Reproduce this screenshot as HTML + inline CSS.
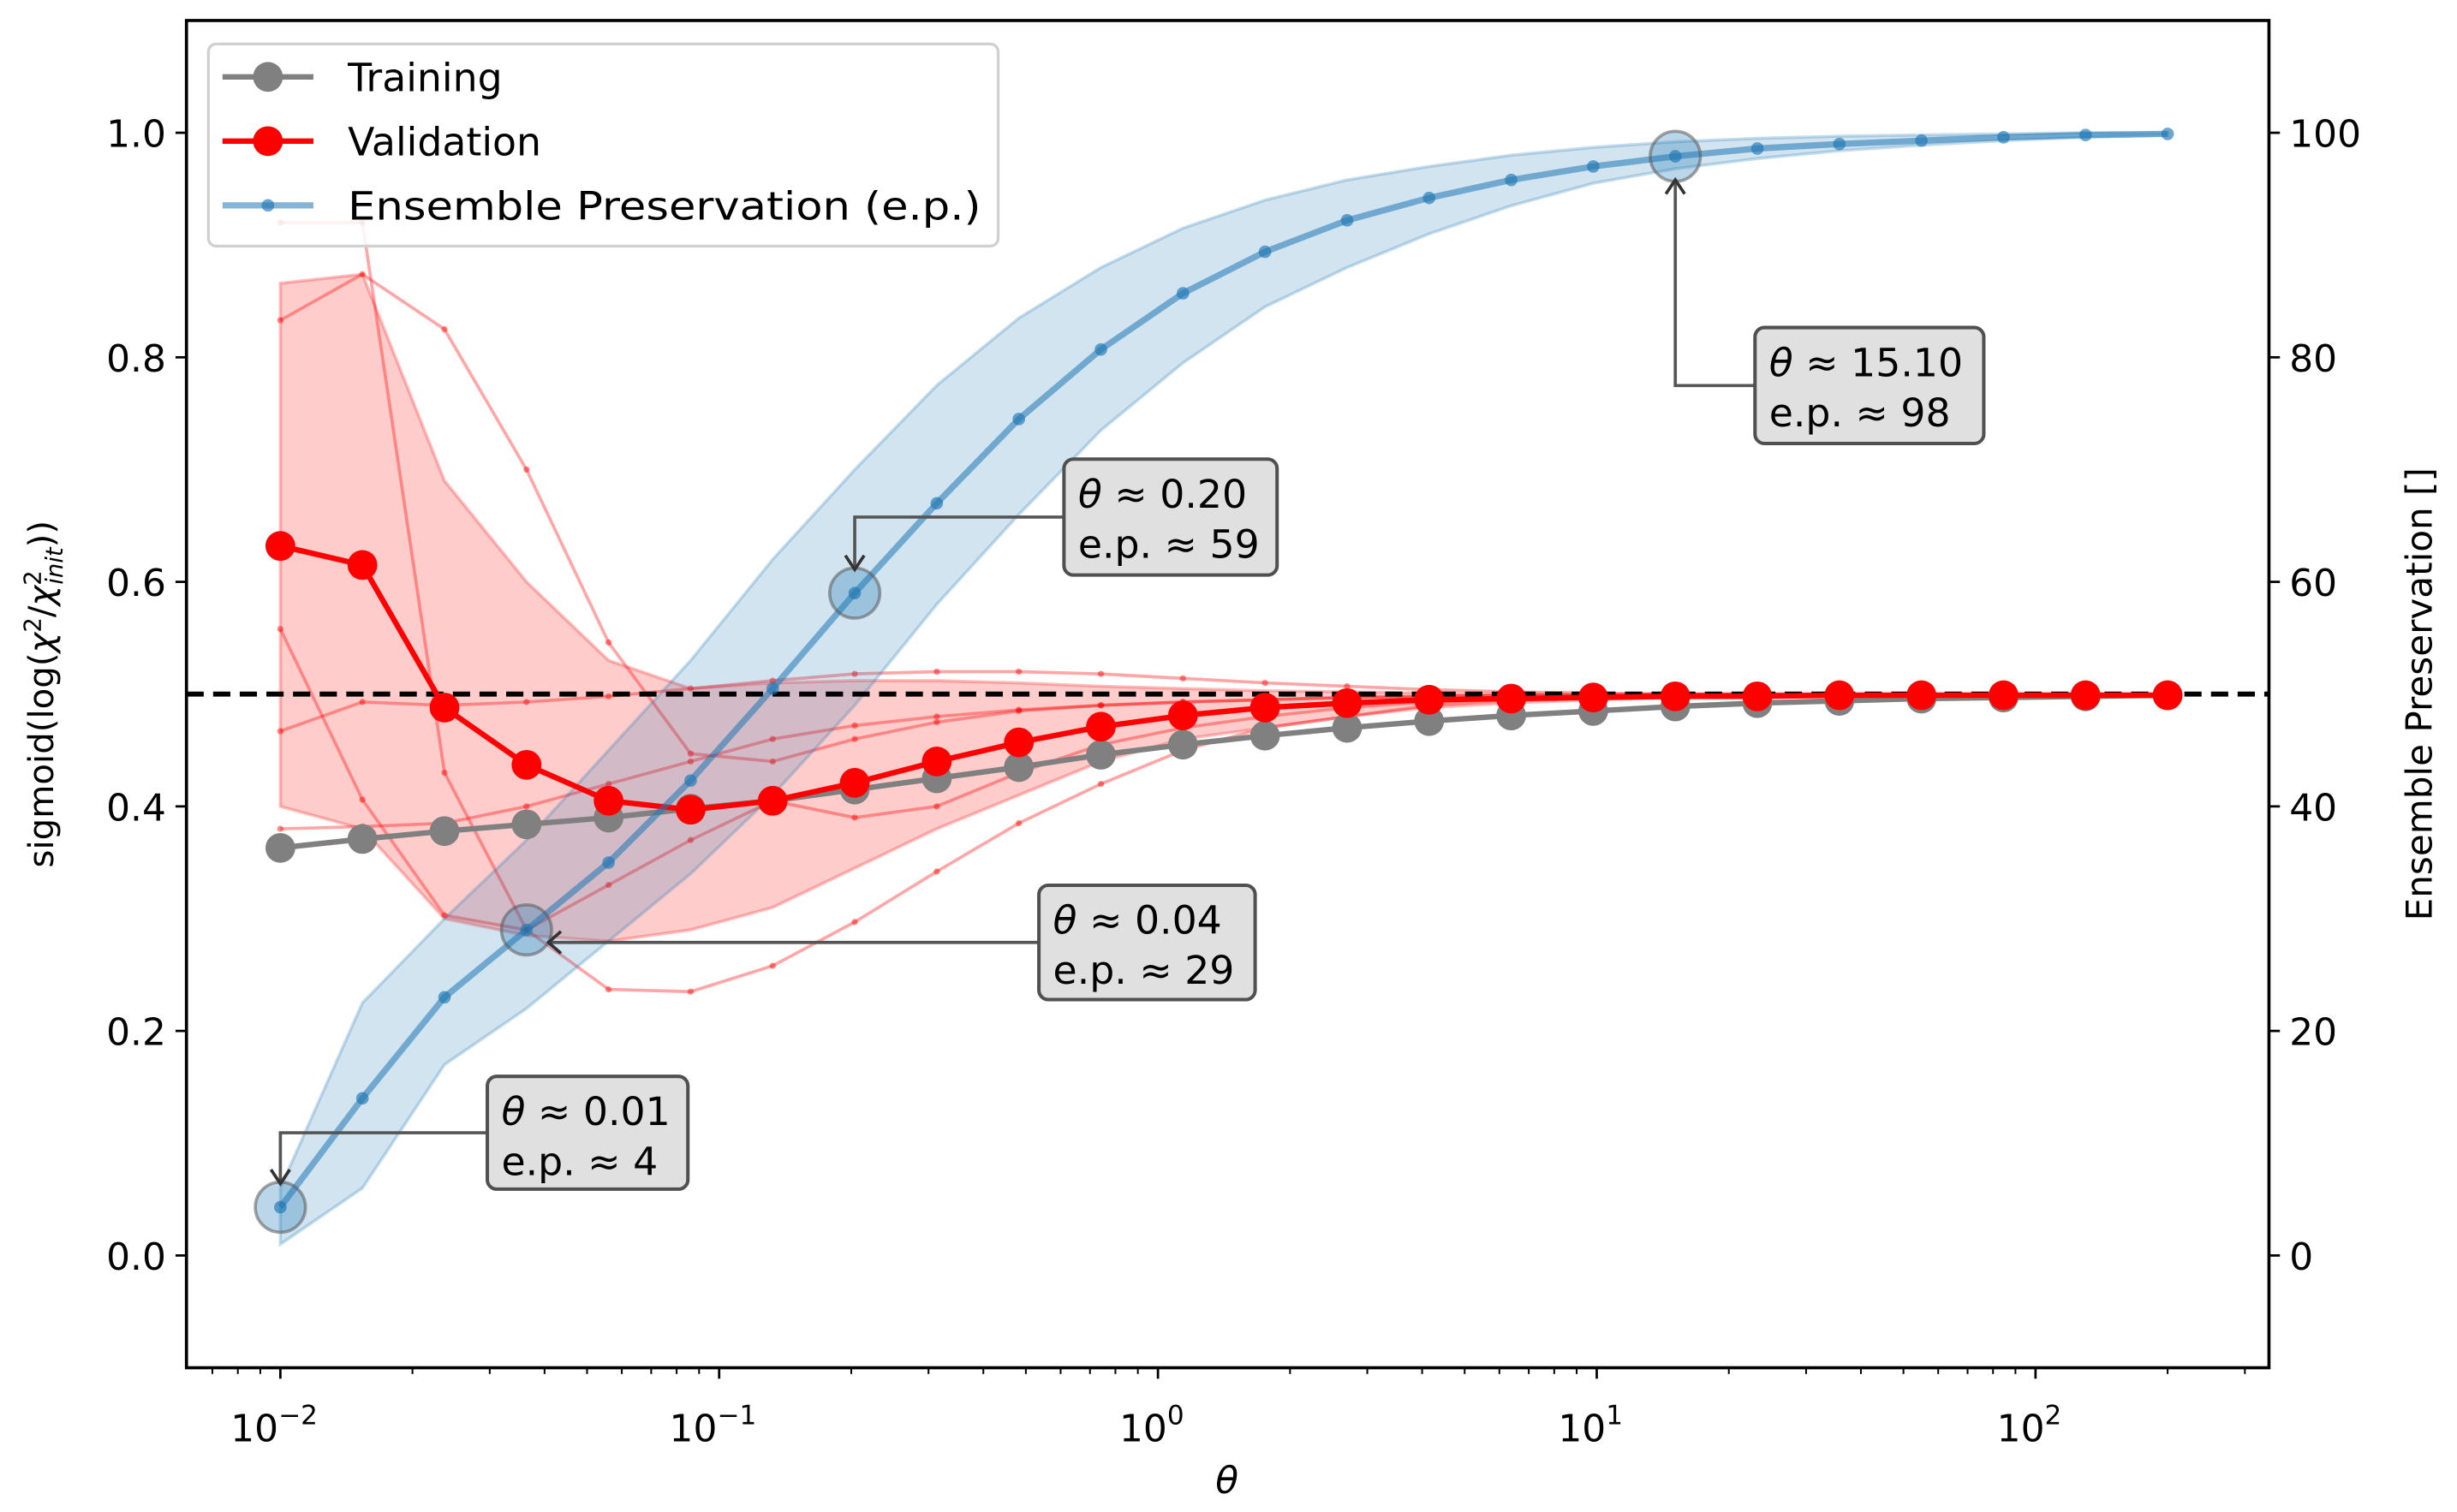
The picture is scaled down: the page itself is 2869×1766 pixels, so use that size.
<!DOCTYPE html>
<html><head><meta charset="utf-8"><style>
html,body{margin:0;padding:0;background:#fff}
svg{display:block}
text{font-family:"DejaVu Sans","Liberation Sans",sans-serif;fill:#000}
</style></head><body>
<svg id="chart" width="2869" height="1766" viewBox="0 0 1568 965" xmlns="http://www.w3.org/2000/svg">
<g id="plot"></g>
</svg>
<script>
const thetaMin = 0.01, thetaMax = 200, nPts = 24;
const training = [0.363,0.371,0.378,0.384,0.390,0.398,0.405,0.415,0.425,0.435,0.446,0.455,0.463,0.470,0.476,0.481,0.485,0.489,0.492,0.494,0.496,0.497,0.498,0.499];
const validation = [0.632,0.615,0.488,0.437,0.405,0.397,0.405,0.421,0.440,0.457,0.471,0.481,0.488,0.492,0.495,0.496,0.497,0.498,0.498,0.499,0.499,0.499,0.499,0.499];
const valUpper = [0.866,0.874,0.69,0.60,0.53,0.505,0.51,0.512,0.512,0.51,0.507,0.505,0.503,0.502,0.501,0.5,0.5,0.5,0.5,0.5,0.5,0.5,0.5,0.5];
const valLower = [0.40,0.38,0.30,0.285,0.28,0.29,0.31,0.345,0.38,0.41,0.44,0.46,0.47,0.48,0.488,0.492,0.495,0.497,0.498,0.498,0.499,0.499,0.499,0.499];
const runA = [0.92,0.92,0.43,0.29,0.33,0.37,0.405,0.39,0.40,0.43,0.455,0.47,0.48,0.488,0.493,0.496,0.498,0.499,0.499,0.5,0.5,0.5,0.5,0.5];
const runB = [0.833,0.874,0.825,0.70,0.546,0.447,0.44,0.46,0.475,0.485,0.49,0.493,0.495,0.497,0.498,0.499,0.499,0.5,0.5,0.5,0.5,0.5,0.5,0.5];
const runC = [0.558,0.406,0.303,0.29,0.237,0.235,0.258,0.297,0.342,0.385,0.42,0.45,0.47,0.48,0.49,0.495,0.497,0.498,0.499,0.499,0.5,0.5,0.5,0.5];
const runD = [0.467,0.493,0.49,0.493,0.498,0.505,0.512,0.518,0.52,0.52,0.518,0.514,0.51,0.507,0.504,0.502,0.501,0.5,0.5,0.5,0.5,0.5,0.5,0.5];
const runE = [0.38,0.382,0.385,0.40,0.42,0.44,0.46,0.472,0.48,0.486,0.49,0.493,0.495,0.497,0.498,0.499,0.499,0.5,0.5,0.5,0.5,0.5,0.5,0.5];
const ep = [4.3,14,23,29,35,42.3,50.5,59,67,74.5,80.7,85.7,89.4,92.2,94.2,95.8,97,97.9,98.6,99.0,99.3,99.6,99.8,99.9];
const epUpper = [6,22.5,30,37,45,53,62,70,77.5,83.5,88,91.5,94,95.8,97,98,98.7,99.2,99.5,99.7,99.8,99.9,100,100];
const epLower = [1,6,17,22,28,34,41,49,58,66,73.5,79.5,84.5,88,91,93.5,95.5,96.8,97.7,98.4,98.9,99.3,99.6,99.8];
const highlightIdx = [0,3,7,17];
const yTicks = [0,0.2,0.4,0.6,0.8,1.0];
const yTickLabels = ["0.0","0.2","0.4","0.6","0.8","1.0"];
const y2Ticks = [0,20,40,60,80,100];
const xDecades = [-2,-1,0,1,2];

const L=119,R=1448,T=13,B=873;
const lx0=-2.214, lx1=2.532, ylo=-0.1, yhi=1.1;
const X=v=>L+(Math.log10(v)-lx0)/(lx1-lx0)*(R-L);
const Y=v=>B-(v-ylo)/(yhi-ylo)*(B-T);
const Y2=v=>Y(v/100);
const thetas=[];for(let i=0;i<nPts;i++)thetas.push(Math.pow(10,Math.log10(thetaMin)+i*(Math.log10(thetaMax)-Math.log10(thetaMin))/(nPts-1)));

const NS="http://www.w3.org/2000/svg";
const svg=document.getElementById('chart');
const g=document.getElementById('plot');
function mk(tag,at,parent){const e=document.createElementNS(NS,tag);for(const k in at)e.setAttribute(k,at[k]);(parent||g).appendChild(e);return e;}
const pts=(arr,yf)=>arr.map((v,i)=>X(thetas[i]).toFixed(2)+','+yf(v).toFixed(2)).join(' ');

const defs=mk('defs',{},svg);const cp=mk('clipPath',{id:'cp'},defs);mk('rect',{x:L,y:T,width:R-L,height:B-T},cp);
const inner=mk('g',{'clip-path':'url(#cp)'});

let e=mk('polygon',{points:pts(valUpper,Y)+' '+pts(valLower,Y).split(' ').reverse().join(' '),fill:'rgba(255,0,0,0.2)',stroke:'rgba(255,0,0,0.25)','stroke-width':2},inner);


[runA,runB,runC,runD,runE].forEach((r,k)=>{
  const l=mk('polyline',{points:pts(r,Y),fill:'none',stroke:'rgba(255,0,0,0.35)','stroke-width':2},inner);
  
  
  r.forEach((v,i)=>{const c=mk('circle',{cx:X(thetas[i]),cy:Y(v),r:2,fill:'rgba(255,0,0,0.45)'},inner);
  
  });
});
e=mk('polygon',{points:pts(epUpper,Y2)+' '+pts(epLower,Y2).split(' ').reverse().join(' '),fill:'rgba(31,119,180,0.2)',stroke:'rgba(31,119,180,0.25)','stroke-width':2},inner);


e=mk('line',{x1:L,x2:R,y1:Y(0.5),y2:Y(0.5),stroke:'#000','stroke-width':3.2,'stroke-dasharray':'11,6'},inner);


e=mk('polyline',{points:pts(training,Y),fill:'none',stroke:'#808080','stroke-width':3.5},inner);


training.forEach((v,i)=>{const c=mk('circle',{cx:X(thetas[i]),cy:Y(v),r:9.5,fill:'#808080'},inner);

});
e=mk('polyline',{points:pts(validation,Y),fill:'none',stroke:'#ff0000','stroke-width':3.5},inner);


validation.forEach((v,i)=>{const c=mk('circle',{cx:X(thetas[i]),cy:Y(v),r:9.5,fill:'#ff0000'},inner);

});
e=mk('polyline',{points:pts(ep,Y2),fill:'none',stroke:'rgba(31,119,180,0.55)','stroke-width':4},inner);


ep.forEach((v,i)=>{const c=mk('circle',{cx:X(thetas[i]),cy:Y2(v),r:4,fill:'rgba(31,119,180,0.65)'},inner);

});
highlightIdx.forEach(i=>{const c=mk('circle',{cx:X(thetas[i]),cy:Y2(ep[i]),r:16,fill:'rgba(31,119,180,0.3)',stroke:'rgba(90,90,90,0.55)','stroke-width':2},inner);

});

const ann=[
 {i:0,bx:311,by:687,bw:128,bh:72,t1:'0.01',t2:'4',path:'h'},
 {i:3,bx:663,by:565,bw:138,bh:73,t1:'0.04',t2:'29',path:'direct'},
 {i:7,bx:679,by:293,bw:136,bh:74,t1:'0.20',t2:'59',path:'h'},
 {i:17,bx:1120,by:209,bw:146,bh:74,t1:'15.10',t2:'98',path:'h'}
];
ann.forEach(a=>{
  const px=X(thetas[a.i]),py=Y2(ep[a.i]);const my=a.by+a.bh/2;
  let d,ax,ay,dir;
  if(a.path==='direct'){d=`M${a.bx},${my} H${px+14}`;ax=px+14;ay=my;dir='l';}
  else{const ty=py<my?py+15:py-15;d=`M${a.bx},${my} H${px} V${ty}`;ax=px;ay=ty;dir=py<my?'u':'d';}
  const p=mk('path',{d:d,fill:'none',stroke:'#555','stroke-width':2});
  
  
  let hd;if(dir==='l')hd=`M${ax+8},${ay-7} L${ax},${ay} L${ax+8},${ay+7}`;
  else if(dir==='d')hd=`M${ax-6},${ay-9} L${ax},${ay} L${ax+6},${ay-9}`;
  else hd=`M${ax-6},${ay+9} L${ax},${ay} L${ax+6},${ay+9}`;
  const h=mk('path',{d:hd,fill:'none',stroke:'#333','stroke-width':2});
  
  
  const box=mk('g',{});
  
  
  mk('rect',{x:a.bx,y:a.by,width:a.bw,height:a.bh,rx:6,fill:'#e0e0e0',stroke:'#505050','stroke-width':2.2},box);
  const t=mk('text',{x:a.bx+9,y:a.by+31,'font-size':25},box);t.innerHTML='<tspan font-style="italic">θ</tspan> ≈ '+a.t1;
  const t2=mk('text',{x:a.bx+9,y:a.by+63,'font-size':25},box);t2.textContent='e.p. ≈ '+a.t2;
});

e=mk('rect',{x:L,y:T,width:R-L,height:B-T,fill:'none',stroke:'#000','stroke-width':2});


yTicks.forEach((v,k)=>{mk('line',{x1:L-7,x2:L,y1:Y(v),y2:Y(v),stroke:'#000','stroke-width':1.5});
 const t=mk('text',{x:L-13,y:Y(v)+9,'font-size':24,'text-anchor':'end'});t.textContent=yTickLabels[k];
 
 });
y2Ticks.forEach(v=>{mk('line',{x1:R,x2:R+7,y1:Y2(v),y2:Y2(v),stroke:'#000','stroke-width':1.5});
 const t=mk('text',{x:R+13,y:Y2(v)+9,'font-size':24});t.textContent=String(v);
 
 });
for(let dd=-3;dd<=2;dd++){for(let m=1;m<10;m++){const v=m*Math.pow(10,dd);const lx=Math.log10(v);if(lx<lx0||lx>lx1)continue;
 mk('line',{x1:X(v),x2:X(v),y1:B,y2:B+(m===1?7:4),stroke:'#000','stroke-width':m===1?1.5:1.1});}}
xDecades.forEach(dd=>{const t=mk('text',{x:X(Math.pow(10,dd))-4,y:B+47,'font-size':24,'text-anchor':'middle'});
 t.innerHTML='10<tspan dy="-11" font-size="17">'+(dd<0?'−'+(-dd):dd)+'</tspan>';
 
 });
e=mk('text',{x:783,y:953,'font-size':24,'font-style':'italic','text-anchor':'middle'});e.textContent='θ';


e=mk('text',{x:0,y:0,'font-size':22,'text-anchor':'middle',transform:'translate(34,443) rotate(-90)'});
e.innerHTML='sigmoid(log(<tspan font-style="italic">χ</tspan><tspan dy="-8" font-size="15">2</tspan><tspan dy="8">/</tspan><tspan font-style="italic">χ</tspan><tspan dy="-8" font-size="15">2</tspan><tspan dy="14" dx="-9" font-size="15" font-style="italic">init</tspan><tspan dy="-6">))</tspan>';


e=mk('text',{x:0,y:0,'font-size':23,'text-anchor':'middle',transform:'translate(1552,443) rotate(-90)'});
e.textContent='Ensemble Preservation []';



const lg=mk('g',{});


mk('rect',{x:133,y:28,width:504,height:129,rx:5,fill:'rgba(255,255,255,0.85)',stroke:'#d0d0d0','stroke-width':1.8},lg);
const items=[['Training','#808080',9.5,3.5],['Validation','#ff0000',9.5,3.5],['Ensemble Preservation (e.p.)','rgba(31,119,180,0.55)',4,4]];
items.forEach((it,k)=>{const yy=49+k*41;
 const eg=mk('g',{},lg);
 
 
 mk('line',{x1:142,x2:200,y1:yy,y2:yy,stroke:it[1],'stroke-width':it[3]},eg);
 mk('circle',{cx:171,cy:yy,r:it[2],fill:k===2?'rgba(31,119,180,0.65)':it[1]},eg);
 const t=mk('text',{x:222,y:yy+9,'font-size':25},eg);t.textContent=it[0];
 if(k===2){t.setAttribute('textLength',404);t.setAttribute('lengthAdjust','spacingAndGlyphs');}});
</script>
</body></html>
